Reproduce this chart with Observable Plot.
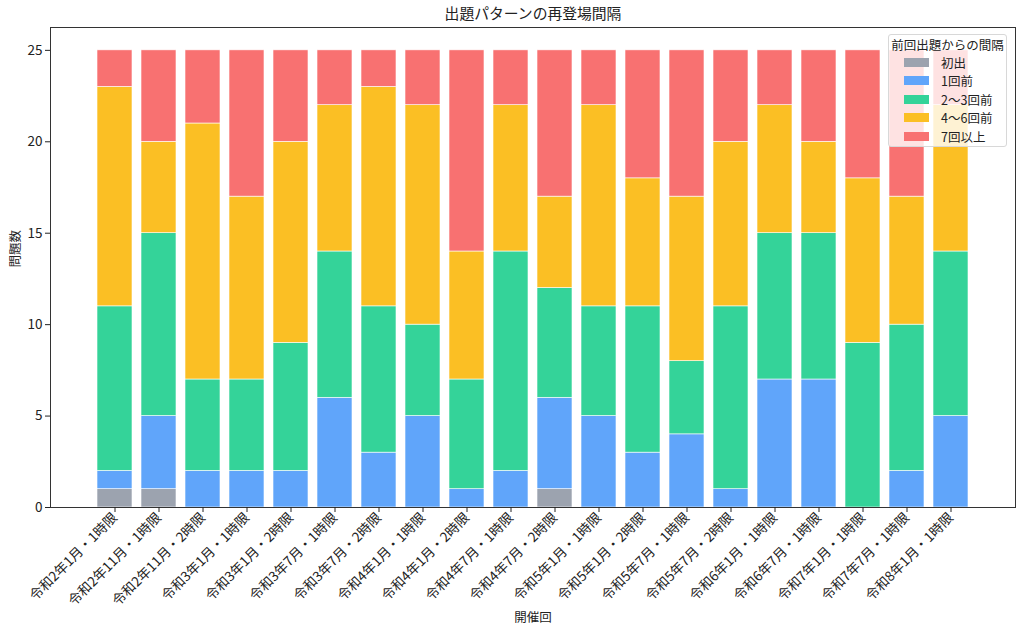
<!DOCTYPE html>
<html>
<head>
<meta charset="utf-8">
<script src="https://cdn.jsdelivr.net/npm/d3@7"></script>
<script src="https://cdn.jsdelivr.net/npm/@observablehq/plot@0.6"></script>
<style>
  html, body { margin: 0; padding: 0; background: #fff; }
  #wrap { position: relative; width: 1024px; height: 633px; font-family: "Noto Sans CJK JP", "Noto Sans", sans-serif; }
  #legend {
    position: absolute; left: 888px; top: 34px; width: 119px; height: 113px;
    box-sizing: border-box; border: 1px solid #d8d8d8; border-radius: 3px;
    background: rgba(255,255,255,0.8); font-size: 12.5px; color: #222;
  }
  #legend .ttl { text-align: center; margin-top: 2px; line-height: 16px; }
  #legend .row { display: flex; align-items: center; height: 18.5px; }
  #legend .sw { width: 25px; height: 9px; margin-left: 15px; margin-right: 12px; }
</style>
</head>
<body>
<div id="wrap"></div>
<script>
const categories = [
  "令和2年1月・1時限", "令和2年11月・1時限", "令和2年11月・2時限", "令和3年1月・1時限",
  "令和3年1月・2時限", "令和3年7月・1時限", "令和3年7月・2時限", "令和4年1月・1時限",
  "令和4年1月・2時限", "令和4年7月・1時限", "令和4年7月・2時限", "令和5年1月・1時限",
  "令和5年1月・2時限", "令和5年7月・1時限", "令和5年7月・2時限", "令和6年1月・1時限",
  "令和6年7月・1時限", "令和7年1月・1時限", "令和7年7月・1時限", "令和8年1月・1時限"
];
const seriesNames = ["初出", "1回前", "2〜3回前", "4〜6回前", "7回以上"];
const seriesColors = ["#9ca3af", "#60a5fa", "#34d399", "#fbbf24", "#f87171"];
const firstTime  = [1, 1, 0, 0, 0, 0, 0, 0, 0, 0, 1, 0, 0, 0, 0, 0, 0, 0, 0, 0];
const prev1      = [1, 4, 2, 2, 2, 6, 3, 5, 1, 2, 5, 5, 3, 4, 1, 7, 7, 0, 2, 5];
const prev2to3   = [9, 10, 5, 5, 7, 8, 8, 5, 6, 12, 6, 6, 8, 4, 10, 8, 8, 9, 8, 9];
const prev4to6   = [12, 5, 14, 10, 11, 8, 12, 12, 7, 8, 5, 11, 7, 9, 9, 7, 5, 9, 7, 8];
const prev7plus  = [2, 5, 4, 8, 5, 3, 2, 3, 11, 3, 8, 3, 7, 8, 5, 3, 5, 7, 8, 3];
const yTicks = [0, 5, 10, 15, 20, 25];

const seriesValues = [firstTime, prev1, prev2to3, prev4to6, prev7plus];
const data = [];
categories.forEach((c, i) => {
  seriesNames.forEach((s, j) => data.push({ cat: c, series: s, value: seriesValues[j][i] }));
});

const chart = Plot.plot({
  width: 1024,
  height: 633,
  marginTop: 27,
  marginBottom: 126,
  marginLeft: 50,
  marginRight: 9,
  style: { fontFamily: '"Noto Sans CJK JP", "Noto Sans", sans-serif', fontSize: "13px", color: "#222", background: "#fff" },
  x: { type: "band", domain: categories, paddingInner: 0.2, paddingOuter: 0.99, align: 0.5 },
  y: { domain: [0, 26.25] },
  color: { domain: seriesNames, range: seriesColors },
  marks: [
    Plot.barY(data, Plot.stackY({ x: "cat", y: "value", fill: "series", order: seriesNames, stroke: "white", strokeWidth: 0.6 })),
    Plot.frame({ stroke: "#333", strokeWidth: 1 }),
    Plot.axisY({ ticks: yTicks, tickSize: 5, tickPadding: 3, fontSize: 13.5, label: null }),
    Plot.axisX({ tickRotate: -45, tickSize: 5, tickPadding: 3, fontSize: 13.5, label: null }),
    Plot.text(["問題数"], { frameAnchor: "left", rotate: -90, dx: -35, fontSize: 12.5, fill: "#222" }),
    Plot.text(["開催回"], { frameAnchor: "bottom", lineAnchor: "middle", dy: 110, fontSize: 12.5, fill: "#222" }),
    Plot.text(["出題パターンの再登場間隔"], { frameAnchor: "top", lineAnchor: "middle", dy: -13, fontSize: 14.8, fill: "#222" })
  ]
});

const wrap = document.getElementById("wrap");
wrap.appendChild(chart);

const legend = document.createElement("div");
legend.id = "legend";
legend.innerHTML = '<div class="ttl">前回出題からの間隔</div>' +
  seriesNames.map((s, i) => `<div class="row"><span class="sw" style="background:${seriesColors[i]}"></span><span>${s}</span></div>`).join("");
wrap.appendChild(legend);
</script>
</body>
</html>
